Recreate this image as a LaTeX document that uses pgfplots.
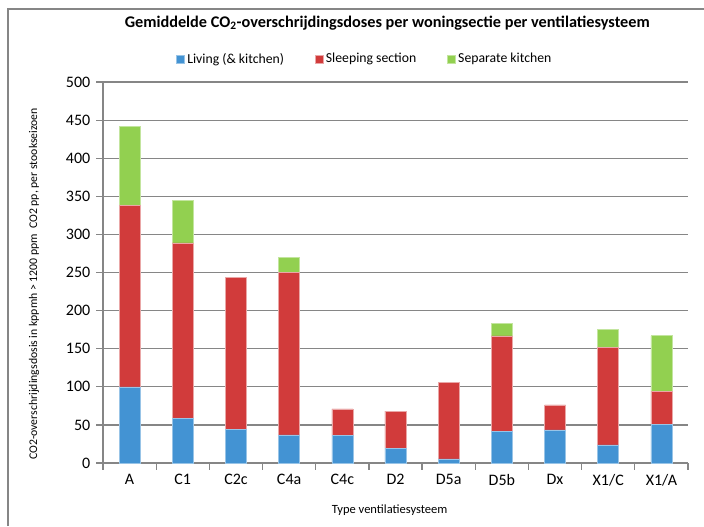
\documentclass[border=0pt]{standalone}
\usepackage{fontspec}
\setmainfont{Carlito}
\usepackage{pgfplots}
\pgfplotsset{compat=1.18}

\definecolor{livblue}{RGB}{67,147,211}
\definecolor{sleepred}{RGB}{209,59,59}
\definecolor{kitgreen}{RGB}{146,208,80}
\definecolor{gridgray}{RGB}{134,134,134}

\begin{document}
\begin{tikzpicture}
\begin{axis}[
    scale only axis,
    width=438.75pt, height=285.75pt,
    ybar stacked,
    bar width=0.395,
    xmin=-0.5, xmax=10.5,
    ymin=0, ymax=500,
    ytick={0,50,...,500},
    xtick={0,...,10},
    xticklabels={A,C1,C2c,C4a,C4c,D2,D5a,D5b,Dx,X1/C,X1/A},
    minor xtick={-0.5,0.5,...,10.5},
    axis x line*=bottom, axis y line*=left,
    axis line style={gridgray, line width=0.9pt, -},
    ymajorgrids, grid style={gridgray, line width=0.9pt},
    tick align=outside,
    x tick style={draw=none},
    minor x tick style={draw=gridgray, line width=0.9pt},
    minor tick length=5pt,
    y tick style={gridgray, line width=0.9pt},
    major tick length=5pt,
    /pgf/number format/assume math mode=true,
    tick label style={font=\fontsize{12}{14}\selectfont},
    yticklabel style={xshift=-1pt},
    title={Gemiddelde CO\textsubscript{2}-overschrijdingsdoses per woningsectie per ventilatiesysteem},
    title style={at={(axis description cs:0.486,1.134)}, anchor=center, font=\bfseries\fontsize{12.2}{14}\selectfont},
    xlabel={Type ventilatiesysteem},
    xlabel style={at={(axis description cs:0.49,-0.1234)}, anchor=center, font=\fontsize{9.4}{11}\selectfont},
    ylabel={CO2-overschrijdingsdosis in kppmh > 1200 ppm\ \ CO2 pp, per stookseizoen},
    ylabel style={at={(axis description cs:-0.118,0.47)}, anchor=center, font=\fontsize{8.8}{10}\selectfont},
    legend columns=3,
    legend style={draw=none, fill=none, at={(axis description cs:0.448,1.06)}, anchor=center,
        font=\fontsize{10.3}{12}\selectfont,
        /tikz/every even column/.append style={column sep=21pt}},
    legend image code/.code={\fill[#1] (0pt,-3pt) rectangle (6pt,3pt);},
]
\addplot[fill=livblue, draw=livblue!55!white, line width=0.4pt] coordinates {
 (0,100) (1,59) (2,44) (3,37) (4,36) (5,19.5) (6,5.4) (7,41) (8,43.4) (9,23.7) (10,50.8)};
\addplot[fill=sleepred, draw=sleepred!45!white, line width=0.4pt] coordinates {
 (0,238) (1,230) (2,200) (3,213.5) (4,35) (5,48.5) (6,100) (7,125.8) (8,32.8) (9,128.5) (10,43.3)};
\addplot[fill=kitgreen, draw=kitgreen!55!white, line width=0.4pt] coordinates {
 (0,104) (1,56) (2,0) (3,19.5) (4,0) (5,0) (6,0) (7,16.7) (8,0) (9,23.2) (10,72.9)};
\legend{Living (\& kitchen), Sleeping section, Separate kitchen}
\end{axis}
\useasboundingbox (-77.25pt,-47.25pt) rectangle (450.75pt,347.25pt);
\draw[gridgray, line width=1.1pt] (-71.25pt,-47.25pt) -- (-71.25pt,340.5pt) -- (450.75pt,340.5pt);
\end{tikzpicture}
\end{document}
